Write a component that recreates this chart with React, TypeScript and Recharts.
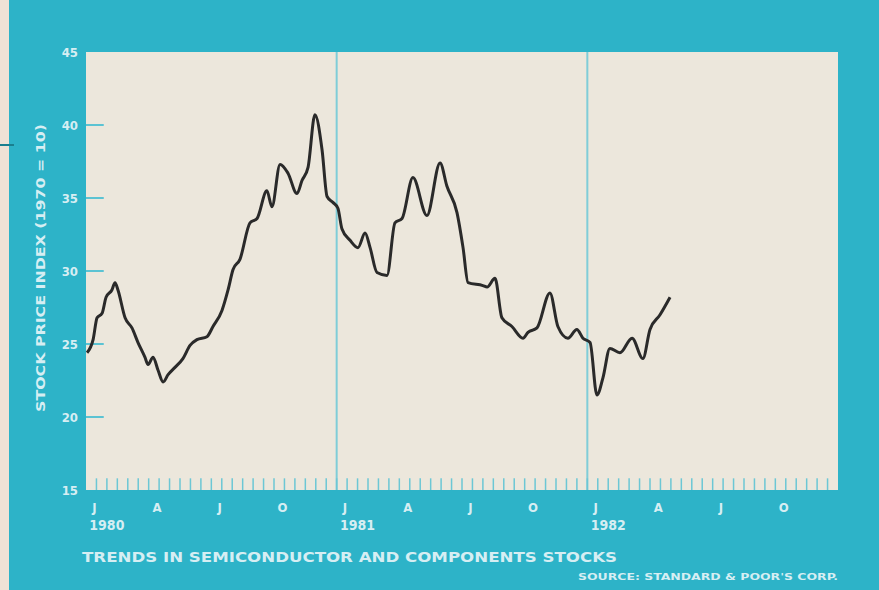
import React from 'react';
import {
  LineChart,
  Line,
  XAxis,
  YAxis,
  ReferenceArea,
  ReferenceLine
} from 'recharts';

// month position (0 = start of Jan 1980) and index value
const monthPos = [
  0.05, 0.34, 0.53, 0.77, 0.96, 1.24, 1.39, 1.53, 1.87, 2.2, 2.49, 2.82, 2.97, 3.21, 3.45,
  3.69, 3.93, 4.26, 4.64, 4.98, 5.31, 5.79, 6.08, 6.51, 6.8, 7.04, 7.37, 7.85, 8.19, 8.66,
  8.9, 9.29, 9.67, 10.1, 10.34, 10.63, 10.96, 11.3, 11.54, 11.82, 12.06, 12.25, 12.64, 13.02,
  13.36, 13.6, 13.93, 14.41, 14.79, 15.13, 15.65, 16.32, 16.95, 17.28, 17.76, 18.05, 18.29,
  19.0, 19.2, 19.58, 19.91, 20.39, 20.92, 21.16, 21.59, 22.21, 22.59, 23.07, 23.5, 23.79,
  24.13, 24.46, 24.75, 25.08, 25.56, 26.14, 26.66, 27.0, 27.48, 27.96
];
const indexValues = [
  24.4, 25.3, 26.8, 27.1, 28.2, 28.7, 29.2, 28.7, 26.8, 26.1, 25.1, 24.1, 23.6, 24.1, 23.2,
  22.4, 22.9, 23.4, 24.0, 24.9, 25.3, 25.5, 26.2, 27.3, 28.7, 30.1, 30.8, 33.3, 33.6, 35.5,
  34.4, 37.3, 36.7, 35.3, 36.2, 37.1, 40.7, 38.3, 35.1, 34.7, 34.3, 32.9, 32.1, 31.6,
  32.6, 31.6, 29.9, 29.7, 33.3, 33.6, 36.4, 33.8, 37.4, 35.8, 34.0, 31.6, 29.2,
  29.0, 28.9, 29.5, 26.8, 26.2, 25.4, 25.8, 26.1, 28.5, 26.2, 25.4, 26.0, 25.4,
  25.1, 21.5, 22.7, 24.7, 24.4, 25.4, 24.0, 26.0, 27.0, 28.2
];

const monthLabels = ['J', 'A', 'J', 'O', 'J', 'A', 'J', 'O', 'J', 'A', 'J', 'O'];
const labelPos = [0.4, 3.4, 6.4, 9.4, 12.4, 15.4, 18.4, 21.4, 24.4, 27.4, 30.4, 33.4];
const yearLabels: Record<number, string> = { 0: '1980', 4: '1981', 8: '1982' };
const yTicks = [15, 20, 25, 30, 35, 40, 45];
const yearBreaks = [12, 24];
const minorTicks = Array.from({ length: 71 }, (_, i) => (i + 1) * 0.5);

const data = monthPos.map((m, i) => ({ m, v: indexValues[i] }));

const TEAL = '#2db3c8';
const CREAM = '#ece7dc';
const PALE = '#d6eef3';
const FONT = '"DejaVu Sans Condensed", "DejaVu Sans", sans-serif';

const MonthTick = (props: any) => {
  const { x, y, payload } = props;
  const i = labelPos.indexOf(payload.value);
  return (
    <g>
      <text x={x} y={y + 22} textAnchor="middle" fill={PALE} fontSize={13} fontWeight="bold" fontFamily={FONT}>
        {monthLabels[i]}
      </text>
      {yearLabels[i] && (
        <text x={x - 5} y={y + 40} textAnchor="start" fill={PALE} fontSize={14} fontWeight="bold" fontFamily={FONT}>
          {yearLabels[i]}
        </text>
      )}
    </g>
  );
};

export default function App() {
  return (
    <div style={{ position: 'absolute', top: 0, left: 0, width: 879, height: 590, background: TEAL, overflow: 'hidden' }}>
      <div style={{ position: 'absolute', left: 0, top: 0, width: 9, height: 590, background: '#efe2d6' }} />
      <div style={{ position: 'absolute', left: 0, top: 144, width: 14, height: 2, background: '#1a7f8f' }} />
      <LineChart width={879} height={590} data={data} margin={{ top: 52, right: 41, bottom: 0, left: 0 }}>
        <XAxis
          dataKey="m"
          type="number"
          domain={[0, 36]}
          ticks={labelPos}
          interval={0}
          height={100}
          axisLine={false}
          tickLine={false}
          tickSize={0}
          tickMargin={0}
          tick={<MonthTick />}
        />
        <YAxis
          domain={[15, 45]}
          ticks={yTicks}
          interval={0}
          width={86}
          axisLine={false}
          tickLine={false}
          tickSize={6}
          tickMargin={2}
          tick={{ fill: PALE, fontSize: 13, fontWeight: 'bold', fontFamily: FONT }}
        />
        <ReferenceArea x1={0} x2={36} y1={15} y2={45} fill={CREAM} fillOpacity={1} stroke="none" />
        {yearBreaks.map((b) => (
          <ReferenceLine key={'b' + b} x={b} stroke="#7fcdd8" strokeWidth={2} />
        ))}
        {yTicks.slice(1, -1).map((t) => (
          <ReferenceLine
            key={'y' + t}
            segment={[{ x: 0, y: t }, { x: 0.85, y: t }]}
            stroke="#5bc3d3"
            strokeWidth={2}
          />
        ))}
        {minorTicks.map((t) => (
          <ReferenceLine
            key={'t' + t}
            segment={[{ x: t, y: 15 }, { x: t, y: 15.8 }]}
            stroke="#6cc7d5"
            strokeWidth={1.5}
          />
        ))}
        <Line
          type="monotone"
          dataKey="v"
          stroke="#2a2a2a"
          strokeWidth={3}
          dot={false}
          isAnimationActive={false}
        />
      </LineChart>
      <svg width={879} height={590} style={{ position: 'absolute', left: 0, top: 0, pointerEvents: 'none' }}>
        <text
          transform="translate(45, 268) rotate(-90)"
          textAnchor="middle"
          fill={PALE}
          fontSize={13}
          fontWeight="bold"
          fontFamily={FONT}
          textLength={288}
          lengthAdjust="spacingAndGlyphs"
        >
          STOCK PRICE INDEX (1970 = 10)
        </text>
        <text
          x={82}
          y={562}
          fill={PALE}
          fontSize={14}
          fontWeight="bold"
          fontFamily={FONT}
          textLength={535}
          lengthAdjust="spacingAndGlyphs"
        >
          TRENDS IN SEMICONDUCTOR AND COMPONENTS STOCKS
        </text>
        <text
          x={578}
          y={580}
          fill={PALE}
          fontSize={9}
          fontWeight="bold"
          fontFamily={FONT}
          textLength={260}
          lengthAdjust="spacingAndGlyphs"
        >
          SOURCE:  STANDARD &amp; POOR'S CORP.
        </text>
      </svg>
    </div>
  );
}
